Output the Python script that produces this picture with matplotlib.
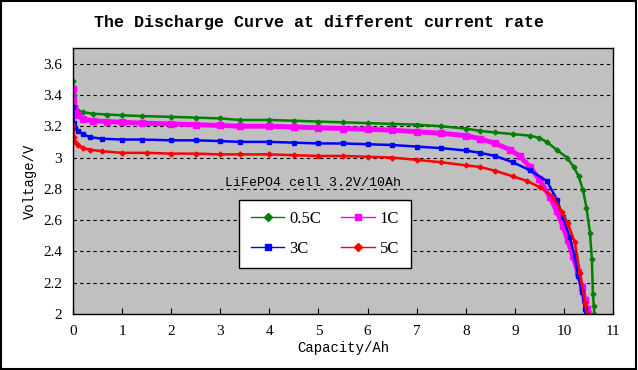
import matplotlib
matplotlib.use("Agg")
import matplotlib.pyplot as plt
from matplotlib.patches import Rectangle

title = "The Discharge Curve at different current rate"
xlabel = "Capacity/Ah"
ylabel = "Voltage/V"
note = "LiFePO4 cell 3.2V/10Ah"
labels = ["0.5C", "1C", "3C", "5C"]

x_05c = [0, 0.02, 0.05, 0.1, 0.2, 0.4, 0.7, 1.0, 1.4, 2, 2.5, 3, 3.4, 4, 4.5, 5, 5.5, 6, 6.5, 7, 7.5, 8, 8.3,
         8.6, 8.96, 9.3, 9.5, 9.65, 9.85, 10.06, 10.2, 10.3, 10.39, 10.46, 10.53, 10.57, 10.59, 10.61, 10.62]
v_05c = [3.49, 3.40, 3.33, 3.30, 3.29, 3.28, 3.275, 3.27, 3.265, 3.26, 3.255, 3.25, 3.24, 3.24, 3.235, 3.23, 3.225,
         3.22, 3.215, 3.21, 3.20, 3.185, 3.17, 3.16, 3.15, 3.14, 3.125, 3.10, 3.05, 3.0, 2.94, 2.88, 2.79, 2.68,
         2.52, 2.35, 2.13, 2.05, 2.0]

x_1c = [0, 0.01, 0.05, 0.1, 0.2, 0.4, 0.7, 1, 1.4, 2, 2.5, 3, 3.4, 4, 4.5, 5, 5.5, 6, 6.5, 7, 7.5, 8, 8.3, 8.6,
        8.9, 9.1, 9.31, 9.5, 9.71, 9.85, 9.98, 10.08, 10.18, 10.28, 10.37, 10.43, 10.47, 10.5]
v_1c = [3.44, 3.37, 3.30, 3.27, 3.245, 3.235, 3.23, 3.225, 3.22, 3.215, 3.21, 3.205, 3.20, 3.20, 3.195, 3.19,
        3.185, 3.18, 3.175, 3.165, 3.155, 3.14, 3.12, 3.09, 3.05, 3.01, 2.94, 2.86, 2.75, 2.66, 2.56, 2.47, 2.37,
        2.27, 2.17, 2.09, 2.03, 2.0]

x_3c = [0, 0.02, 0.05, 0.1, 0.2, 0.35, 0.6, 1, 1.4, 2, 2.5, 3, 3.4, 4, 4.5, 5, 5.5, 6, 6.5, 7, 7.5, 8, 8.29,
        8.6, 8.96, 9.3, 9.65, 9.86, 9.98, 10.12, 10.22, 10.29, 10.37, 10.43, 10.46]
v_3c = [3.32, 3.22, 3.19, 3.17, 3.15, 3.13, 3.12, 3.115, 3.115, 3.11, 3.11, 3.105, 3.10, 3.10, 3.095, 3.09, 3.09,
        3.085, 3.08, 3.07, 3.06, 3.045, 3.03, 3.01, 2.97, 2.92, 2.85, 2.73, 2.62, 2.49, 2.37, 2.24, 2.14, 2.03, 2.0]

x_5c = [0, 0.02, 0.05, 0.1, 0.2, 0.35, 0.6, 1, 1.5, 2, 2.5, 3, 3.4, 4, 4.5, 5, 5.5, 6, 6.5, 7, 7.5, 8, 8.29,
        8.6, 8.96, 9.25, 9.51, 9.78, 9.96, 10.08, 10.22, 10.33, 10.43, 10.47]
v_5c = [3.21, 3.13, 3.10, 3.08, 3.06, 3.05, 3.04, 3.03, 3.03, 3.025, 3.025, 3.02, 3.02, 3.02, 3.015, 3.01, 3.01,
        3.005, 3.0, 2.985, 2.97, 2.95, 2.94, 2.915, 2.88, 2.85, 2.81, 2.75, 2.65, 2.58, 2.46, 2.26, 2.07, 2.0]

xticks = list(range(0, 12))
yticks = [2, 2.2, 2.4, 2.6, 2.8, 3, 3.2, 3.4, 3.6]
yticklabels = ["2", "2.2", "2.4", "2.6", "2.8", "3", "3.2", "3.4", "3.6"]

mono = "Liberation Mono"
serif = "Liberation Serif"

fig = plt.figure(figsize=(6.38, 3.70), dpi=100)
fig.patch.set_facecolor("white")
fig.patches.append(Rectangle((0.002, 0.003), 0.995, 0.994, transform=fig.transFigure,
                             fill=False, edgecolor="black", linewidth=1.5))
ax = fig.add_axes([73/638, 1-314/370, 540/638, 266/370])
ax.set_facecolor("#C0C0C0")

series = [
    (x_05c, v_05c, "#008000", "D", 2.5),
    (x_1c, v_1c, "#FF00FF", "s", 5),
    (x_3c, v_3c, "#0000FF", "s", 3.5),
    (x_5c, v_5c, "#FF0000", "D", 2.5),
]
handles = []
for (xs, vs, c, m, ms), lab in zip(series, labels):
    lw = 3.5 if c == "#FF00FF" else 1.8
    h, = ax.plot(xs, vs, color=c, marker=m, markersize=ms, linewidth=lw, label=lab,
                 markeredgecolor=c)
    handles.append(h)

ax.set_xlim(0, 11)
ax.set_ylim(2, 3.7)
ax.set_xticks(xticks)
ax.set_yticks(yticks)
ax.set_yticklabels(yticklabels)
ax.yaxis.grid(True, linestyle=(0, (3, 3)), color="black", linewidth=0.8)
ax.tick_params(axis="x", direction="in", length=4, pad=8, labelsize=11)
ax.tick_params(axis="y", length=0, pad=8, labelsize=11)
for lbl in ax.get_xticklabels() + ax.get_yticklabels():
    lbl.set_fontfamily(serif)
for s in ax.spines.values():
    s.set_color("black")
    s.set_linewidth(1)

ax.set_xlabel(xlabel, fontfamily=mono, fontsize=10, labelpad=2)
ax.set_ylabel(ylabel, fontfamily=mono, fontsize=10, labelpad=4)
fig.text(0.5, 1-22/370, title, ha="center", va="center", fontfamily=mono,
         fontsize=12, fontweight="bold")
ax.text(3.1, 2.84, note, fontfamily=mono, fontsize=9.5, ha="left", va="center")

order = [0, 2, 1, 3]
leg = ax.legend([handles[i] for i in order], [labels[i] for i in order],
                ncol=2, loc="center", bbox_to_anchor=(325/638, 1-234/370),
                bbox_transform=fig.transFigure, frameon=True, fancybox=False,
                edgecolor="black", facecolor="white", framealpha=1,
                prop={"family": serif, "size": 12}, handlelength=2.0,
                columnspacing=1.2, labelspacing=0.8, borderpad=0.7, handletextpad=0.3)
leg.get_frame().set_linewidth(1)
for h in leg.legend_handles:
    h.set_linewidth(1)
    h.set_markersize(4)

fig.savefig("out.png", dpi=100)
